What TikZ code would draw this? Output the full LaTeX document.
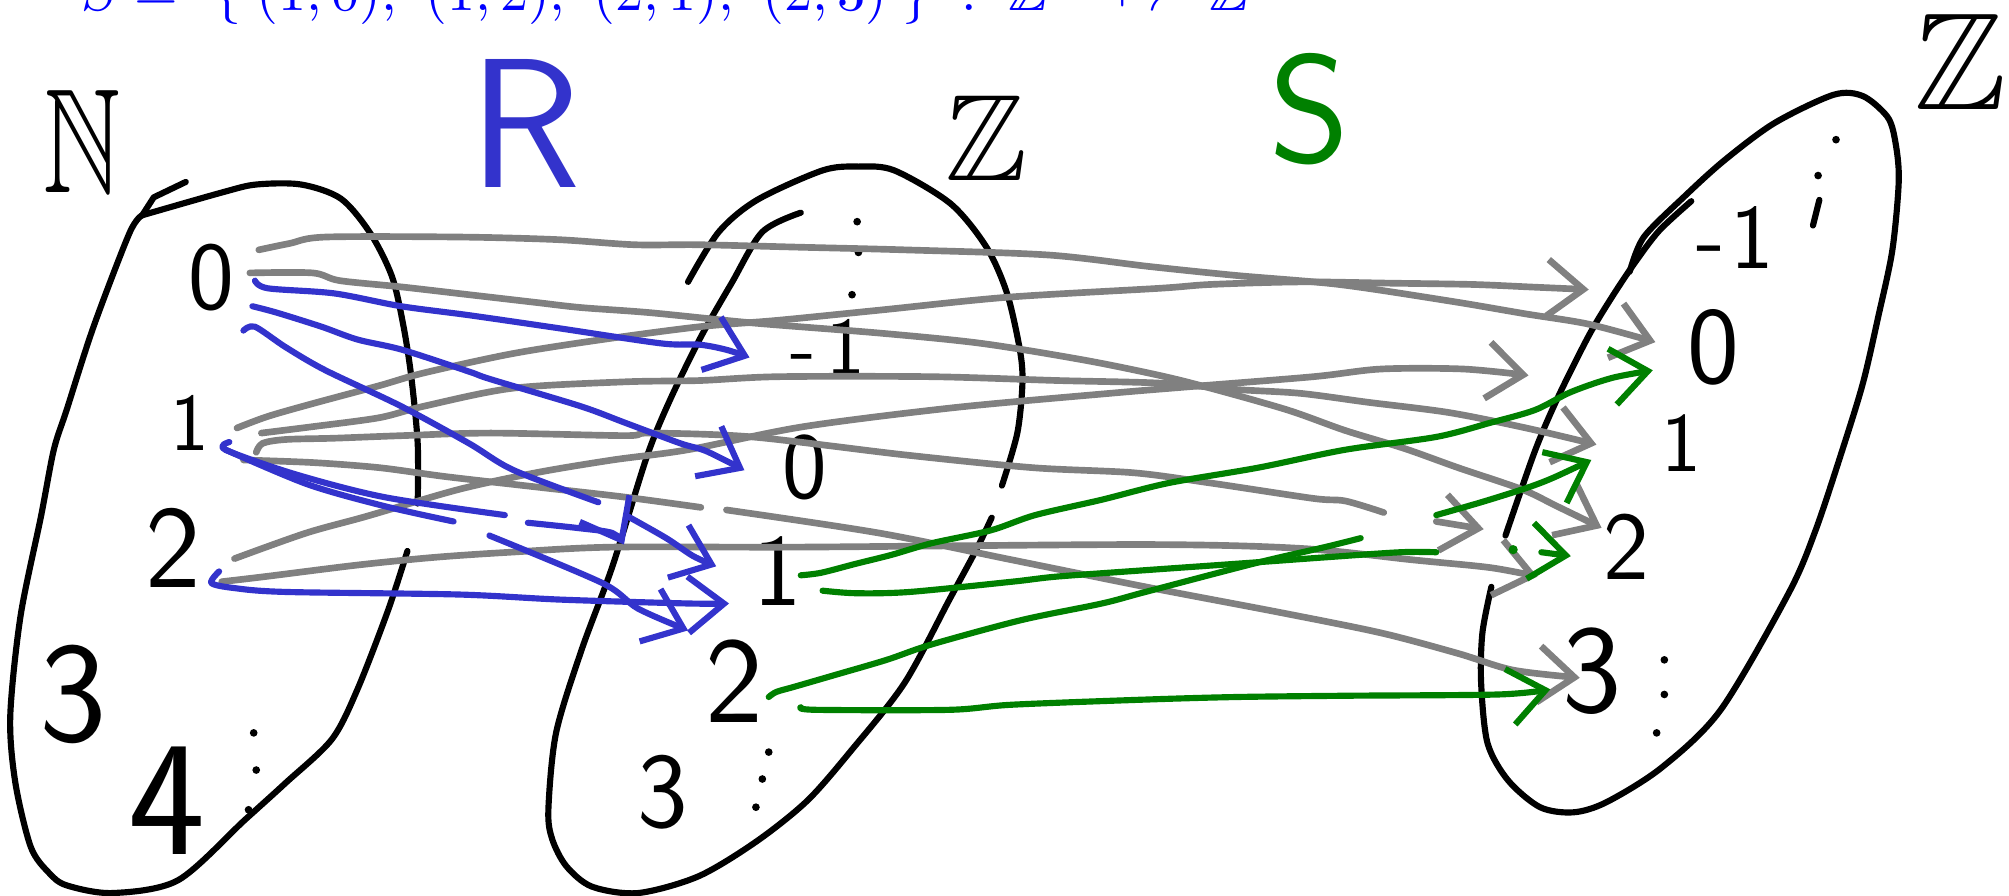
\documentclass[tikz,border=0pt]{standalone}
\usepackage{amssymb}
\usetikzlibrary{arrows.meta}
\definecolor{rblue}{RGB}{51,51,204}
\definecolor{sgreen}{RGB}{0,128,0}
\definecolor{cgray}{RGB}{128,128,128}
\definecolor{tblue}{RGB}{0,0,255}
\newcommand{\hfs}[1]{\fontsize{#1}{#1}\selectfont}
\newcommand{\relarrow}{\mathrel{\longrightarrow\mkern-16mu\mapstochar\mkern16mu}}
\begin{document}
\begin{tikzpicture}[x=0.25pt,y=-0.25pt,
  pen/.style={line width=1.2pt, line cap=round, line join=round},
  outline/.style={pen, black},
  rline/.style={pen, rblue},
  gline/.style={pen, cgray, line width=1.3pt},
  sline/.style={pen, sgreen},
  tip/.style={-{Straight Barb[length=7pt,width=11pt]}},
  lbl/.style={inner sep=0pt},
]
\useasboundingbox (0,0) rectangle (1568,699);

% title (cut off at the top, as in the original)
\node[lbl, anchor=base west, text=tblue, font=\hfs{11.3}] (title) at (63,8)
  {$S =\ \bigl\{\;(1,0),\ (1,2),\ (2,1),\ (2,3)\;\bigr\}\;:\;\mathbb{Z}\;\relarrow\;\,\mathbb{Z}$};

% ---------- set N ----------
\draw[outline] plot[smooth, tension=0.5] coordinates {(318,430) (303,476) (279,538) (259,577) (223,611) (191,640) (139,687) (88,697) (52,691) (38,681) (24,661) (12,611) (8,559) (16,481) (32,403) (42,351) (52,320) (73,255) (101,182) (111,168)};
\draw[outline] plot[smooth, tension=0.5] coordinates {(111,168) (174,150) (200,144) (235,144) (266,155) (289,182) (306,216) (315,255) (321,294) (326,346) (326,393)};
\draw[outline] (111,168) -- (120,154) -- (145,142);

% ---------- set Z (middle) ----------
\draw[outline] plot[smooth, tension=0.5] coordinates {(625,166) (595,181) (571,221) (547,263) (523,312) (505,356) (478,442) (454,507) (434,572) (428,632) (431,655) (442,676) (462,692) (498,697) (545,684) (590,657) (630,625) (665,585) (706,533) (741,468) (762,429) (774,404)};
\draw[outline] plot[smooth, tension=0.5] coordinates {(782,379) (794,338) (798,299) (796,273) (786,229) (770,193) (742,159) (698,133) (670,130) (642,133) (591,156) (561,181) (537,220)};

% ---------- set Z (right) ----------
\draw[outline] plot[smooth, tension=0.5] coordinates {(1164,458) (1157,494) (1156,533) (1161,580) (1177,609) (1202,630) (1228,634) (1254,626) (1297,599) (1343,554) (1396,463) (1417,414) (1438,351) (1454,299) (1466,247) (1477,195) (1482,140) (1479,109) (1473,91) (1454,75) (1431,74) (1385,96) (1346,125) (1315,153) (1283,185) (1272,212)};
\draw[outline] plot[smooth, tension=0.5] coordinates {(1320,157) (1295,180) (1276,205) (1258,232) (1240,262) (1216,310) (1198,352) (1175,418)};

% ---------- labels ----------
\node[lbl, font=\hfs{29}] (Nlab) at (64,110) {\scalebox{0.72}[1]{$\mathbb{N}$}};
\node[lbl, text=rblue, font=\hfs{36}\sffamily] (Rlab) at (410,96) {R};
\node[lbl, font=\hfs{24}] (Zmid) at (770,108) {$\mathbb{Z}$};
\node[lbl, text=sgreen, font=\hfs{30}\sffamily] (Slab) at (1022,85) {S};
\node[lbl, font=\hfs{27}] (Zright) at (1530,48) {$\mathbb{Z}$};

\node[lbl, font=\hfs{19}\sffamily] (n0) at (165,217) {0};
\node[lbl, font=\hfs{16}\sffamily] (n1) at (148,330) {1};
\node[lbl, font=\hfs{23}\sffamily] (n2) at (135,428) {2};
\node[lbl, font=\hfs{28}\sffamily] (n3) at (57,542) {3};
\node[lbl, font=\hfs{32}\sffamily] (n4) at (130,625) {4};

\node[lbl, font=\hfs{16}\sffamily] (zm1) at (646,271) {-\kern2pt1};
\node[lbl, font=\hfs{18.5}\sffamily] (z0) at (628,365) {0};
\node[lbl, font=\hfs{20}\sffamily] (z1) at (607,446) {1};
\node[lbl, font=\hfs{24}\sffamily] (z2) at (573,532) {2};
\node[lbl, font=\hfs{21}\sffamily] (z3) at (517,618) {3};

\node[lbl, font=\hfs{18}\sffamily] (rm1) at (1354,185) {-\kern1pt1};
\node[lbl, font=\hfs{21.5}\sffamily] (r0) at (1337,271) {0};
\node[lbl, font=\hfs{16.5}\sffamily] (r1) at (1312,346) {1};
\node[lbl, font=\hfs{19}\sffamily] (r2) at (1269,427) {2};
\node[lbl, font=\hfs{24.6}\sffamily] (r3) at (1243,524) {3};

% dots
\foreach \p in {(198,572),(200,601),(194,632),(669,173),(670,197),(665,230),(600,587),(595,608),(590,630),(1433,109),(1419,137),(1299,515),(1299,542),(1293,572)}
  \fill \p circle[radius=0.75pt];
\draw[outline] (1420,156) -- (1415,176);

% ---------- gray arrows ----------
\draw[gline, tip] plot[smooth, tension=0.5] coordinates {(202,195) (226,190) (254,185) (359,185) (435,187) (495,191) (546,191) (627,193) (706,195) (818,199) (897,208) (965,215) (1045,222) (1132,235) (1191,245) (1240,253) (1292,267)};
\draw[gline, tip] plot[smooth, tension=0.5] coordinates {(195,213) (244,213) (265,219) (314,224) (366,230) (418,236) (453,240) (507,244) (587,252) (687,260) (766,268) (846,281) (905,293) (945,303) (1005,320) (1050,336) (1096,350) (1138,365) (1188,382) (1215,395) (1250,412)};
\draw[gline, tip] plot[smooth, tension=0.5] coordinates {(185,334) (209,325) (244,315) (296,301) (331,291) (400,276) (470,265) (546,255) (607,250) (687,242) (786,232) (905,225) (945,222) (1015,220) (1085,221) (1149,222) (1195,224) (1240,226)};
\draw[gline, tip] plot[smooth, tension=0.5] coordinates {(204,338) (244,333) (296,326) (331,317) (400,303) (488,298) (546,297) (607,294) (727,294) (826,297) (905,299) (965,304) (1015,307) (1068,314) (1131,322) (1191,334) (1246,347)};
\draw[gline] plot[smooth, tension=0.5] coordinates {(200,353) (205,346) (223,343) (261,342) (314,340) (383,338) (488,340) (507,338) (587,341) (706,355) (806,365) (885,369) (945,377) (1025,389) (1050,391) (1080,400)};
\draw[gline, tip] (1121,407) -- (1158,413);
\draw[gline] plot[smooth, tension=0.5] coordinates {(190,359) (244,361) (296,365) (348,372) (418,380) (488,388) (547,396)};
\draw[gline, tip] plot[smooth, tension=0.5] coordinates {(567,398) (686,416) (790,437) (894,458) (999,478) (1078,494) (1138,510) (1181,523) (1233,529)};
\draw[gline, tip] plot[smooth, tension=0.5] coordinates {(183,436) (239,416) (286,403) (358,382) (418,369) (478,359) (537,351) (627,333) (746,318) (866,307) (926,302) (1025,294) (1078,288) (1142,288) (1193,293)};
\draw[gline, tip] plot[smooth, tension=0.5] coordinates {(173,454) (207,450) (279,441) (339,435) (398,431) (478,427) (624,427) (894,425) (1015,428) (1103,437) (1163,443) (1200,450)};

% ---------- blue arrows (R) ----------
\draw[rline, tip] plot[smooth, tension=0.5] coordinates {(199,219) (209,225) (261,229) (313,239) (366,246) (435,256) (516,268) (546,269) (567,273) (585,279)};
\draw[rline, tip] plot[smooth, tension=0.5] coordinates {(197,239) (216,244) (251,255) (279,265) (314,273) (366,290) (383,296) (453,317) (488,330) (531,346) (551,352) (581,367)};
\draw[rline] plot[smooth, tension=0.5] coordinates {(190,258) (199,255) (223,271) (254,289) (313,317) (366,346) (401,367) (467,392)};
\draw[rline, tip] plot[smooth, tension=0.5] coordinates {(490,403) (520,420) (541,434) (559,442)};
\draw[rline] plot[smooth, tension=0.5] coordinates {(179,345) (176,351) (230,370) (300,388) (394,402)};
\draw[rline, tip] plot[smooth, tension=0.5] coordinates {(412,408) (450,412) (478,416) (487,425)};
\draw[rline] plot[smooth, tension=0.5] coordinates {(176,351) (240,378) (300,395) (354,407)};
\draw[rline, tip] plot[smooth, tension=0.5] coordinates {(382,418) (470,455) (498,475) (537,492)};
\draw[rline, tip] plot[smooth, tension=0.5] coordinates {(171,446) (165,455) (183,459) (223,462) (358,464) (438,468) (537,471) (569,471)};

% ---------- green arrows (S) ----------
\draw[sline, tip] plot[smooth, tension=0.5] coordinates {(625,449) (641,447) (668,440) (696,433) (727,424) (773,414) (808,402) (860,390) (912,377) (982,365) (1050,351) (1121,341) (1163,330) (1198,320) (1226,306) (1258,295) (1290,289)};
\draw[sline] plot[smooth, tension=0.5] coordinates {(642,461) (668,463) (710,462) (790,454) (825,450) (894,445) (965,440) (1034,435) (1093,431) (1121,431)};
\fill[sgreen] (1181,429) circle[radius=0.9pt];
\draw[sline, tip] (1203,431) -- (1226,434);
\draw[sline] plot[smooth, tension=0.5] coordinates {(600,544) (606,540) (620,536) (651,527) (692,515) (727,503) (797,484) (860,471) (894,462) (982,439) (1034,427) (1062,420)};
\draw[sline, tip] plot[smooth, tension=0.5] coordinates {(1121,402) (1156,392) (1191,381) (1212,373) (1242,359)};
\draw[sline, tip] plot[smooth, tension=0.5] coordinates {(625,552) (637,554) (741,554) (790,550) (894,546) (965,544) (1051,543) (1170,542) (1210,538)};
\end{tikzpicture}
\end{document}
